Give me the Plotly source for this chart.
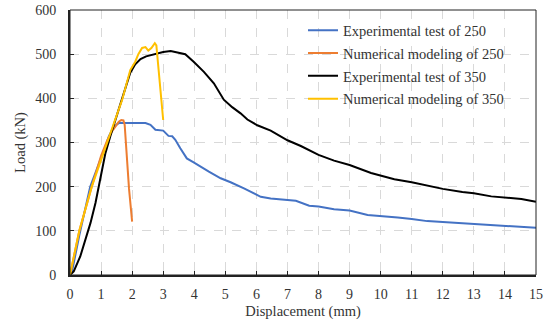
import plotly.graph_objects as go

# Experimental test of 250
exp250_x = [0, 0.05, 0.1, 0.3, 0.65, 0.98, 1.08, 1.13, 1.25, 1.41, 1.57, 1.72, 2.0, 2.43, 2.59, 2.66, 2.75, 3.0, 3.17, 3.29, 3.39, 3.55, 3.76, 3.98, 4.2, 4.47, 4.85, 5.17, 5.6, 5.82, 6.14, 6.46, 7.0, 7.27, 7.7, 8.0, 8.5, 9.0, 9.58, 10.0, 10.55, 11.0, 11.5, 12.0, 12.5, 13.0, 13.55, 14.0, 15.0]
exp250_y = [0, 5, 20, 90, 200, 265, 280, 287, 314, 336, 344, 344, 344, 344, 340, 336, 329, 327, 315, 314, 306, 287, 264, 255, 245, 234, 219, 210, 196, 188, 177, 173, 170, 168, 157, 155, 149, 146, 136, 134, 130, 127, 122, 120, 118, 115, 113, 112, 107]

# Numerical modeling of 250
num250_x = [0, 0.3, 0.7, 1.0, 1.2, 1.35, 1.46, 1.57, 1.65, 1.72, 1.76, 1.83, 1.9, 2.0]
num250_y = [0, 100, 200, 270, 305, 325, 336, 347, 351, 350, 340, 261, 195, 121]

# Experimental test of 350
exp350_x = [0, 0.12, 0.33, 0.49, 0.66, 0.82, 0.98, 1.14, 1.3, 1.5, 1.7, 1.94, 2.1, 2.27, 2.45, 2.7, 3.0, 3.24, 3.44, 3.71, 3.98, 4.31, 4.63, 4.95, 5.22, 5.49, 5.71, 6.03, 6.46, 7.0, 7.43, 8.0, 8.5, 9.0, 9.69, 10.44, 11.0, 11.52, 12.0, 12.63, 13.0, 13.56, 14.0, 14.53, 15.0]
exp350_y = [0, 8, 42, 80, 118, 163, 216, 276, 315, 360, 405, 458, 477, 489, 495, 500, 505, 507, 504, 500, 483, 460, 434, 397, 380, 366, 352, 339, 327, 305, 292, 272, 259, 249, 231, 217, 210, 202, 195, 188, 185, 178, 175, 172, 166]

# Numerical modeling of 350
num350_x = [0, 0.3, 0.7, 1.03, 1.35, 1.68, 1.94, 2.1, 2.2, 2.32, 2.43, 2.52, 2.62, 2.73, 2.78, 3.0]
num350_y = [0, 100, 200, 268, 329, 397, 464, 483, 500, 514, 516, 508, 514, 525, 520, 351]

names = ["Experimental test of 250", "Numerical modeling of 250",
         "Experimental test of 350", "Numerical modeling of 350"]
colors = ["#4472C4", "#ED7D31", "#000000", "#FFC000"]
series = [(exp250_x, exp250_y), (num250_x, num250_y), (exp350_x, exp350_y), (num350_x, num350_y)]

x_ticks = list(range(0, 16))
y_ticks = list(range(0, 601, 100))

FONT = "Liberation Serif, Times New Roman, serif"
TXT = "#333333"

fig = go.Figure()
for i, ((xs, ys), nm, c) in enumerate(zip(series, names, colors)):
    fig.add_trace(go.Scatter(x=xs, y=ys, mode="lines", name=nm, legendgroup=f"g{i}",
                             line=dict(color=c, width=2)))

fig.update_layout(
    width=544, height=328,
    margin=dict(l=70, r=8, t=10, b=53),
    paper_bgcolor="white", plot_bgcolor="white",
    font=dict(family=FONT, size=14, color=TXT),
    showlegend=True,
    legend=dict(x=0.5, y=0.984, xanchor="left", yanchor="top",
                bgcolor="rgba(0,0,0,0)", borderwidth=0,
                font=dict(family=FONT, size=14.5, color=TXT),
                traceorder="grouped", tracegroupgap=1),
    xaxis=dict(range=[0, 15], tickvals=x_ticks, ticktext=[str(v) for v in x_ticks],
               automargin=False,
               showgrid=True, gridcolor="#d9d9d9", griddash="dash", gridwidth=1,
               zeroline=False, showline=True, linecolor="#222222", linewidth=2,
               ticks="inside", ticklen=4, tickcolor="#222222", tickwidth=1,
               ticklabelstandoff=5, tickfont=dict(family=FONT, size=14, color=TXT),
               title=dict(text="Displacement (mm)", font=dict(family=FONT, size=14.5, color=TXT), standoff=5)),
    yaxis=dict(range=[0, 600], tickvals=y_ticks, ticktext=[str(v) for v in y_ticks],
               automargin=False,
               showgrid=True, gridcolor="#d9d9d9", griddash="dash", gridwidth=1,
               zeroline=False, showline=True, linecolor="#222222", linewidth=2,
               ticks="inside", ticklen=4, tickcolor="#222222", tickwidth=1,
               ticklabelstandoff=9, tickfont=dict(family=FONT, size=14, color=TXT),
               title=dict(text="Load (kN)", font=dict(family=FONT, size=14.5, color=TXT), standoff=6)),
    shapes=[dict(type="rect", xref="paper", yref="paper", x0=0, y0=0, x1=1, y1=1,
                 line=dict(color="#222222", width=1), fillcolor="rgba(0,0,0,0)", layer="above")],
)

fig.write_html("out.html")
